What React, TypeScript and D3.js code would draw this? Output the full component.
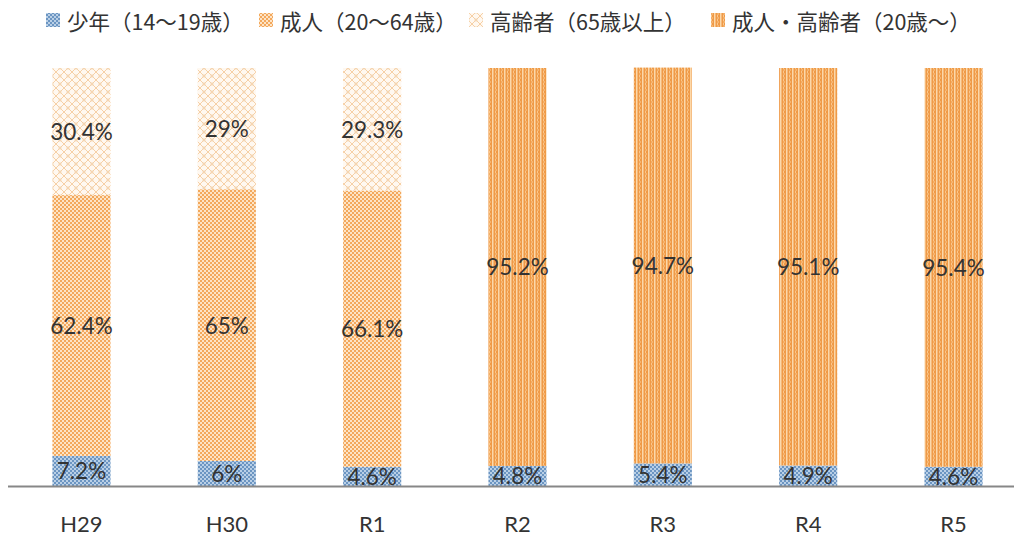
import React from 'react';
import * as d3 from 'd3';

const categories = ['H29', 'H30', 'R1', 'R2', 'R3', 'R4', 'R5'];
const youth = [7.2, 6, 4.6, 4.8, 5.4, 4.9, 4.6];
const adult = [62.4, 65, 66.1, 0, 0, 0, 0];
const elderly = [30.4, 29, 29.3, 0, 0, 0, 0];
const adultElderly = [0, 0, 0, 95.2, 94.7, 95.1, 95.4];

const seriesNames = ['少年（14～19歳）', '成人（20～64歳）', '高齢者（65歳以上）', '成人・高齢者（20歳～）'];
const seriesKeys = ['youth', 'adult', 'elderly', 'adultElderly'];

const W = 1014;
const H = 537;
const legendX = [46, 259, 469, 711];

export default function App() {
  const rows = categories.map((c, i) => ({
    cat: c,
    youth: youth[i],
    adult: adult[i],
    elderly: elderly[i],
    adultElderly: adultElderly[i],
  }));
  const stacked = d3.stack<any>().keys(seriesKeys)(rows);

  const x = d3
    .scaleBand()
    .domain(categories)
    .range([8.8, 1026.2])
    .paddingInner(0.6)
    .paddingOuter(0.3);
  const y = d3.scaleLinear().domain([0, 100]).range([486, 68]);

  const fills = ['url(#pYouth)', 'url(#pAdult)', 'url(#pElder)', 'url(#pComb)'];

  return (
    <svg width={W} height={H} style={{ position: 'absolute', left: 0, top: 0, background: '#fff' }}>
      <defs>
        <pattern id="pYouth" width="4" height="4" patternUnits="userSpaceOnUse">
          <rect width="4" height="4" fill="#b9cfe6" />
          <rect x="0" y="0" width="2" height="2" fill="#6b95c2" />
          <rect x="2" y="2" width="2" height="2" fill="#6b95c2" />
        </pattern>
        <pattern id="pAdult" width="4" height="4" patternUnits="userSpaceOnUse">
          <rect width="4" height="4" fill="#fde4c6" />
          <rect x="0" y="0" width="2" height="2" fill="#f3a85c" />
          <rect x="2" y="2" width="2" height="2" fill="#f3a85c" />
        </pattern>
        <pattern id="pElder" width="8" height="8" patternUnits="userSpaceOnUse">
          <rect width="8" height="8" fill="#fff8f0" />
          <path d="M0,0 L8,8 M8,0 L0,8" stroke="#f6d0a6" strokeWidth="1" fill="none" />
          <circle cx="4" cy="4" r="1.4" fill="none" stroke="#f3dcc2" strokeWidth="0.7" />
        </pattern>
        <pattern id="pComb" width="6" height="8" patternUnits="userSpaceOnUse">
          <rect width="6" height="8" fill="#ef9a47" />
          <rect x="0" y="0" width="1.5" height="8" fill="#fcd8aa" />
          <path d="M3.2,0 L4.4,2 L3.2,4 L4.4,6 L3.2,8" stroke="#fbc88e" strokeWidth="1" fill="none" />
        </pattern>
      </defs>

      {/* legend */}
      <g>
        {seriesNames.map((name, i) => (
          <g key={name}>
            <rect x={legendX[i]} y={13} width={14} height={14} fill={fills[i]} />
            <text
              x={legendX[i] + 21}
              y={20}
              dominantBaseline="central"
              fontFamily="'Noto Sans CJK JP', sans-serif"
              fontSize={21.5}
              fill="#333"
            >
              {name}
            </text>
          </g>
        ))}
      </g>

      {/* bars */}
      {stacked.map((s, si) => (
        <g key={s.key} fill={fills[si]}>
          {s.map((d, i) =>
            d[1] - d[0] > 0 ? (
              <rect
                key={i}
                x={x(categories[i])}
                y={y(d[1])}
                width={x.bandwidth()}
                height={y(d[0]) - y(d[1])}
              />
            ) : null
          )}
        </g>
      ))}

      {/* axis line */}
      <line x1={8} x2={1014} y1={486.5} y2={486.5} stroke="#878787" strokeWidth={1.8} />

      {/* value labels */}
      {stacked.map((s) =>
        s.map((d, i) => {
          const v = d[1] - d[0];
          if (!(v > 0)) return null;
          const raw = (d.data as any)[s.key];
          return (
            <text
              key={s.key + i}
              x={(x(categories[i]) as number) + x.bandwidth() / 2}
              y={(y(d[0]) + y(d[1])) / 2}
              textAnchor="middle"
              dominantBaseline="central"
              fontFamily="Lato, sans-serif"
              fontSize={22.5}
              fill="#333"
            >
              {`${raw}%`}
            </text>
          );
        })
      )}

      {/* category labels */}
      {categories.map((c) => (
        <text
          key={c}
          x={(x(c) as number) + x.bandwidth() / 2}
          y={532}
          textAnchor="middle"
          fontFamily="Lato, sans-serif"
          fontSize={22}
          fill="#333"
        >
          {c}
        </text>
      ))}
    </svg>
  );
}
